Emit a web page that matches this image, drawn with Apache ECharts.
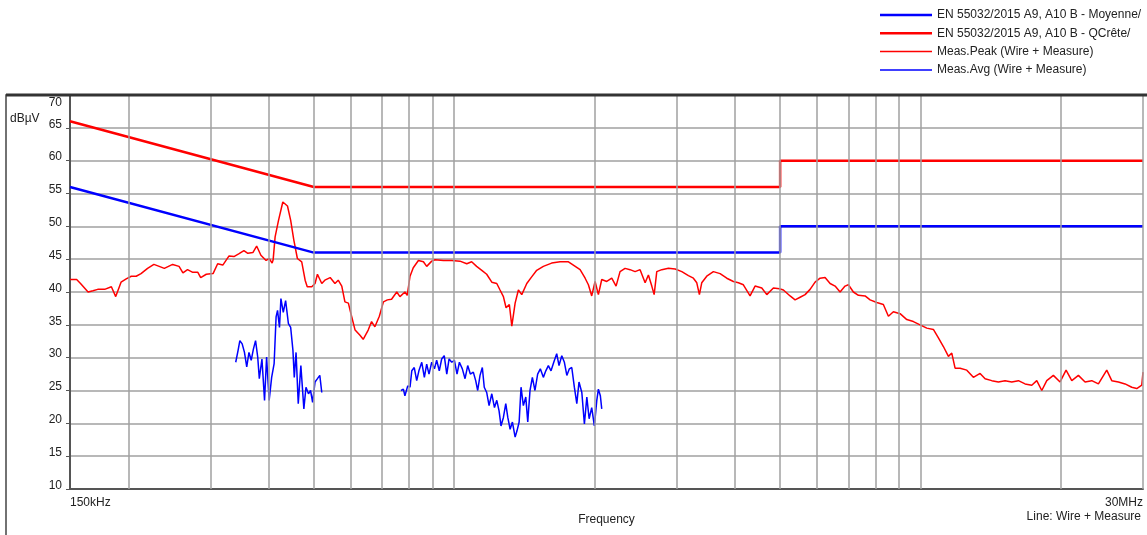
<!DOCTYPE html>
<html>
<head>
<meta charset="utf-8">
<script src="https://cdn.jsdelivr.net/npm/echarts@6/dist/echarts.min.js"></script>
<style>
  html, body { margin: 0; padding: 0; background: #fff; }
  #chart { width: 1147px; height: 535px; }
</style>
</head>
<body>
<div id="chart"></div>
<script>
// limit lines (kHz / dBµV)
const limitFreqKHz = [150, 500, 5000, 5000, 30000];
const qpLimit = [66, 56, 56, 60, 60];
const avgLimit = [56, 46, 46, 50, 50];

// vertical grid lines of the log axis (kHz)
const gridFreqKHz = [200, 300, 400, 500, 600, 700, 800, 900,
  1000, 2000, 3000, 4000, 5000, 6000, 7000, 8000, 9000,
  10000, 20000, 30000];

// y ticks and x end labels
const yTicks = [10, 70, 5];
const xEndLabels = ['150kHz', '30MHz'];

// Meas.Peak
const peakFreqKHz = [
  150, 155, 158, 164, 168, 172, 178, 184, 188, 193,
  198, 203, 208, 213, 220, 227, 233, 239, 249, 257,
  262, 268, 275, 282, 286, 294, 304, 311, 319, 329,
  337, 345, 354, 361, 370, 377, 385, 395, 401, 407,
  409, 413, 420, 429, 439, 446, 453, 461, 471, 479,
  484, 495, 503, 509, 520, 528, 542, 555, 564, 574,
  583, 593, 603, 613, 628, 638, 654, 665, 676, 691,
  705, 719, 734, 753, 765, 784, 793, 804, 817, 838,
  859, 873, 895, 910, 948, 988, 1029, 1064, 1090, 1117,
  1146, 1174, 1204, 1234, 1254, 1275, 1292, 1313, 1329, 1351,
  1373, 1396, 1431, 1466, 1503, 1553, 1618, 1687, 1758, 1801,
  1862, 1909, 1940, 1972, 2005, 2038, 2072, 2124, 2177, 2224,
  2268, 2325, 2383, 2443, 2504, 2567, 2609, 2653, 2684, 2719,
  2787, 2880, 2977, 3077, 3179, 3258, 3313, 3356, 3395, 3480,
  3596, 3717, 3842, 3969, 4069, 4170, 4310, 4418, 4567, 4681,
  4836, 4982, 5081, 5252, 5383, 5518, 5656, 5797, 5942, 6090,
  6242, 6399, 6559, 6722, 6890, 7004, 7179, 7360, 7606, 7796,
  8058, 8324, 8534, 8746, 9041, 9345, 9654, 9979, 10314, 10656,
  10924, 11196, 11478, 11669, 11861, 12158, 12567, 12982, 13420, 13756,
  14217, 14691, 15182, 15693, 16216, 16759, 17321, 17754, 18199, 18653,
  19271, 19920, 20518, 21104, 21807, 22537, 23294, 24070, 25084, 25712,
  26569, 27458, 28380, 29090, 29816, 30000
];
const peakLevel = [
  41.9, 41.9, 41.3, 40.0, 40.2, 40.4, 40.4, 40.8, 39.3, 41.5,
  42.0, 42.4, 42.4, 42.8, 43.6, 44.2, 43.9, 43.6, 44.2, 43.9,
  42.9, 43.4, 43.0, 43.0, 42.2, 42.7, 42.8, 44.3, 44.1, 45.5,
  45.4, 45.8, 46.3, 45.9, 46.0, 47.0, 45.6, 44.8, 45.1, 44.4,
  44.9, 48.4, 50.9, 53.7, 53.1, 50.9, 47.9, 45.1, 44.6, 41.8,
  40.8, 40.8, 41.3, 42.7, 41.3, 41.8, 42.2, 41.3, 41.8, 40.9,
  38.5, 38.3, 36.2, 34.2, 33.4, 32.8, 34.2, 35.5, 34.7, 36.3,
  38.5, 38.8, 38.9, 40.0, 39.3, 40.0, 39.5, 42.4, 43.7, 44.8,
  44.6, 43.9, 44.7, 44.9, 44.8, 44.8, 44.7, 44.3, 44.6, 43.9,
  43.3, 42.7, 41.5, 41.3, 40.3, 39.3, 37.6, 38.1, 34.8, 38.3,
  40.3, 39.6, 41.3, 42.3, 43.3, 43.9, 44.4, 44.6, 44.6, 44.1,
  43.4, 42.1, 41.1, 39.4, 41.6, 39.6, 41.9, 41.6, 42.1, 40.9,
  43.1, 43.6, 43.4, 43.1, 43.4, 41.4, 42.6, 40.9, 39.6, 43.1,
  43.4, 43.6, 43.5, 43.1, 42.5, 42.1, 41.4, 39.6, 41.4, 42.4,
  43.1, 42.8, 42.1, 41.6, 41.4, 41.1, 39.4, 40.9, 40.6, 39.6,
  40.6, 40.5, 40.3, 39.4, 38.8, 39.2, 39.6, 40.4, 41.5, 42.1,
  42.2, 41.3, 40.9, 40.0, 40.9, 41.1, 40.0, 39.5, 39.4, 38.8,
  38.4, 38.1, 36.3, 37.0, 36.7, 35.8, 35.5, 35.0, 34.5, 34.3,
  33.0, 31.7, 30.2, 30.7, 28.4, 28.4, 28.1, 27.0, 27.6, 26.8,
  26.5, 26.3, 26.5, 26.3, 26.5, 26.0, 25.8, 26.5, 25.0, 26.5,
  27.3, 26.3, 28.1, 26.5, 27.3, 26.3, 26.5, 26.0, 28.1, 26.5,
  26.3, 26.0, 25.5, 25.3, 25.8, 27.8
];

// Meas.Avg, two measured stretches
const avgFreqKHz1 = [
  340, 344, 347, 351, 355, 359, 363, 367, 371, 375,
  379, 382, 387, 392, 396, 401, 406, 411, 415, 418,
  422, 425, 430, 435, 441, 446, 451, 454, 458, 463,
  469, 476, 481, 487, 492, 497, 503, 509, 515, 520
];
const avgLevel1 = [
  29.3, 31.1, 32.6, 32.1, 30.8, 28.6, 30.8, 29.6, 31.3, 32.6,
  30.1, 26.8, 29.8, 23.5, 30.1, 23.5, 27.0, 29.1, 36.2, 37.2,
  34.6, 39.0, 36.9, 38.7, 35.2, 34.6, 31.1, 27.0, 30.8, 23.0,
  28.8, 22.2, 25.5, 24.5, 25.0, 23.2, 26.3, 26.8, 27.3, 24.7
];
const avgFreqKHz2 = [
  769, 778, 784, 795, 804, 811, 821, 831, 840, 852,
  863, 873, 883, 895, 907, 917, 929, 940, 952, 964,
  975, 988, 1001, 1014, 1026, 1041, 1055, 1069, 1083, 1099,
  1112, 1123, 1136, 1149, 1160, 1174, 1188, 1204, 1220, 1234,
  1248, 1260, 1275, 1290, 1303, 1318, 1333, 1351, 1364, 1378,
  1391, 1407, 1424, 1438, 1454, 1471, 1490, 1510, 1530, 1553,
  1572, 1592, 1613, 1635, 1659, 1678, 1701, 1723, 1744, 1766,
  1787, 1810, 1832, 1852, 1878, 1902, 1925, 1947, 1972, 1998,
  2022, 2038, 2058, 2072
];
const avgLevel2 = [
  25.0, 25.2, 24.2, 25.7, 25.5, 28.0, 28.5, 26.5, 28.0, 29.3,
  27.0, 29.0, 27.5, 29.3, 28.3, 29.6, 28.0, 29.8, 30.3, 27.5,
  29.8, 29.3, 29.6, 27.5, 29.3, 28.3, 26.8, 28.8, 27.5, 27.8,
  26.5, 25.0, 27.3, 28.5, 25.5, 24.7, 22.7, 24.5, 22.4, 23.5,
  21.9, 19.6, 20.9, 23.0, 20.9, 19.1, 20.2, 17.9, 18.9, 20.2,
  25.5, 22.7, 24.0, 20.2, 25.0, 27.0, 25.0, 27.5, 28.3, 27.0,
  28.0, 28.8, 28.0, 29.3, 30.6, 28.8, 30.3, 29.3, 27.3, 28.3,
  28.5, 25.5, 23.0, 26.3, 24.7, 19.9, 24.0, 20.7, 22.4, 19.6,
  23.5, 25.2, 24.2, 22.2
];

const names = [
  'EN 55032/2015 A9, A10 B - Moyenne/',
  'EN 55032/2015 A9, A10 B - QCrête/',
  'Meas.Peak (Wire + Measure)',
  'Meas.Avg (Wire + Measure)'
];
const RED = '#ff0000';
const BLUE = '#0000ff';

// legend swatches: thick bar for limits, thin bar for measures
const thickIcon = 'path://M0,0H104V5H0Z';
const thinIcon = 'path://M0,0H104V3H0Z';

function zip(xs, ys) {
  return xs.map((x, i) => [x, ys[i]]);
}

function legendItem(name, icon, color) {
  return { name: name, icon: icon, itemStyle: { color: color, borderWidth: 0, borderColor: color, opacity: 1 } };
}

const font = 'Liberation Sans, Arial, sans-serif';
const myChart = echarts.init(document.getElementById('chart'), null, { renderer: 'canvas' });

const option = {
  animation: false,
  backgroundColor: '#fff',
  textStyle: { fontFamily: font },
  title: [
    { text: 'dBµV', left: 5, top: 108, textStyle: { fontSize: 12, fontWeight: 'normal', color: '#222' } },
    { text: 'Line: Wire + Measure', right: 1, top: 506, textStyle: { fontSize: 12, fontWeight: 'normal', color: '#222' } }
  ],
  legend: {
    orient: 'vertical',
    left: 880,
    top: 9,
    padding: 0,
    itemWidth: 52,
    itemHeight: 12,
    itemGap: 6.3,
    symbolKeepAspect: true,
    itemStyle: { borderWidth: 0 },
    data: [
      legendItem(names[0], thickIcon, BLUE),
      legendItem(names[1], thickIcon, RED),
      legendItem(names[2], thinIcon, RED),
      legendItem(names[3], thinIcon, BLUE)
    ],
    textStyle: { fontSize: 12, color: '#222', fontFamily: font }
  },
  grid: { left: 70, right: 4, top: 95, bottom: 46 },
  xAxis: {
    type: 'log',
    logBase: 10,
    min: 150,
    max: 30000,
    name: 'Frequency',
    nameLocation: 'middle',
    nameGap: 20,
    nameTextStyle: { fontSize: 12, color: '#222' },
    axisLine: { lineStyle: { color: '#555', width: 2 } },
    axisTick: { show: false },
    splitLine: { show: false },
    axisLabel: {
      margin: 8,
      fontSize: 12,
      color: '#222',
      showMinLabel: true,
      showMaxLabel: true,
      alignMinLabel: 'left',
      alignMaxLabel: 'right',
      formatter: function (v) {
        if (Math.abs(v - 150) < 1) return xEndLabels[0];
        if (Math.abs(v - 30000) < 10) return xEndLabels[1];
        return '';
      }
    }
  },
  yAxis: {
    type: 'value',
    min: yTicks[0],
    max: yTicks[1],
    interval: yTicks[2],
    axisLine: { show: true, lineStyle: { color: '#555', width: 2 } },
    axisTick: { show: true, length: 4, lineStyle: { color: '#555' } },
    axisLabel: {
      margin: 8,
      fontSize: 12,
      color: '#222',
      formatter: function (v) {
        return v === yTicks[1] ? '{t|' + v + '}' : '{n|' + v + '}';
      },
      rich: {
        n: { fontSize: 12, color: '#222', padding: [0, 0, 7, 0] },
        t: { fontSize: 12, color: '#222', padding: [16, 0, 0, 0] }
      }
    },
    splitLine: { lineStyle: { color: '#a0a0a0', width: 1.5 } }
  },
  graphic: [
    { type: 'rect', silent: true, z: 100, shape: { x: 6, y: 95, width: 1160, height: 470 }, style: { fill: null, stroke: '#444', lineWidth: 1.5 } },
    { type: 'line', silent: true, z: 100, shape: { x1: 6, y1: 95, x2: 1147, y2: 95 }, style: { stroke: '#333', lineWidth: 3 } }
  ],
  series: [
    {
      type: 'line',
      name: 'grid',
      data: [],
      z: 1,
      silent: true,
      markLine: {
        silent: true,
        symbol: ['none', 'none'],
        label: { show: false },
        lineStyle: { color: '#a0a0a0', width: 1.5, type: 'solid' },
        data: gridFreqKHz.map(f => ({ xAxis: f }))
      }
    },
    {
      name: names[2], type: 'line', z: 3, showSymbol: false, symbol: 'none',
      data: zip(peakFreqKHz, peakLevel),
      lineStyle: { color: RED, width: 1.5 }, itemStyle: { color: RED }
    },
    {
      name: names[3], type: 'line', z: 3, showSymbol: false, symbol: 'none',
      data: zip(avgFreqKHz1, avgLevel1),
      lineStyle: { color: BLUE, width: 1.5 }, itemStyle: { color: BLUE }
    },
    {
      name: names[3], type: 'line', z: 3, showSymbol: false, symbol: 'none',
      data: zip(avgFreqKHz2, avgLevel2),
      lineStyle: { color: BLUE, width: 1.5 }, itemStyle: { color: BLUE }
    },
    {
      name: names[1], type: 'line', z: 4, showSymbol: false, symbol: 'none',
      data: zip(limitFreqKHz, qpLimit),
      lineStyle: { color: RED, width: 2.5 }, itemStyle: { color: RED }
    },
    {
      name: names[0], type: 'line', z: 4, showSymbol: false, symbol: 'none',
      data: zip(limitFreqKHz, avgLimit),
      lineStyle: { color: BLUE, width: 2.5 }, itemStyle: { color: BLUE }
    }
  ]
};

myChart.setOption(option);
</script>
</body>
</html>
